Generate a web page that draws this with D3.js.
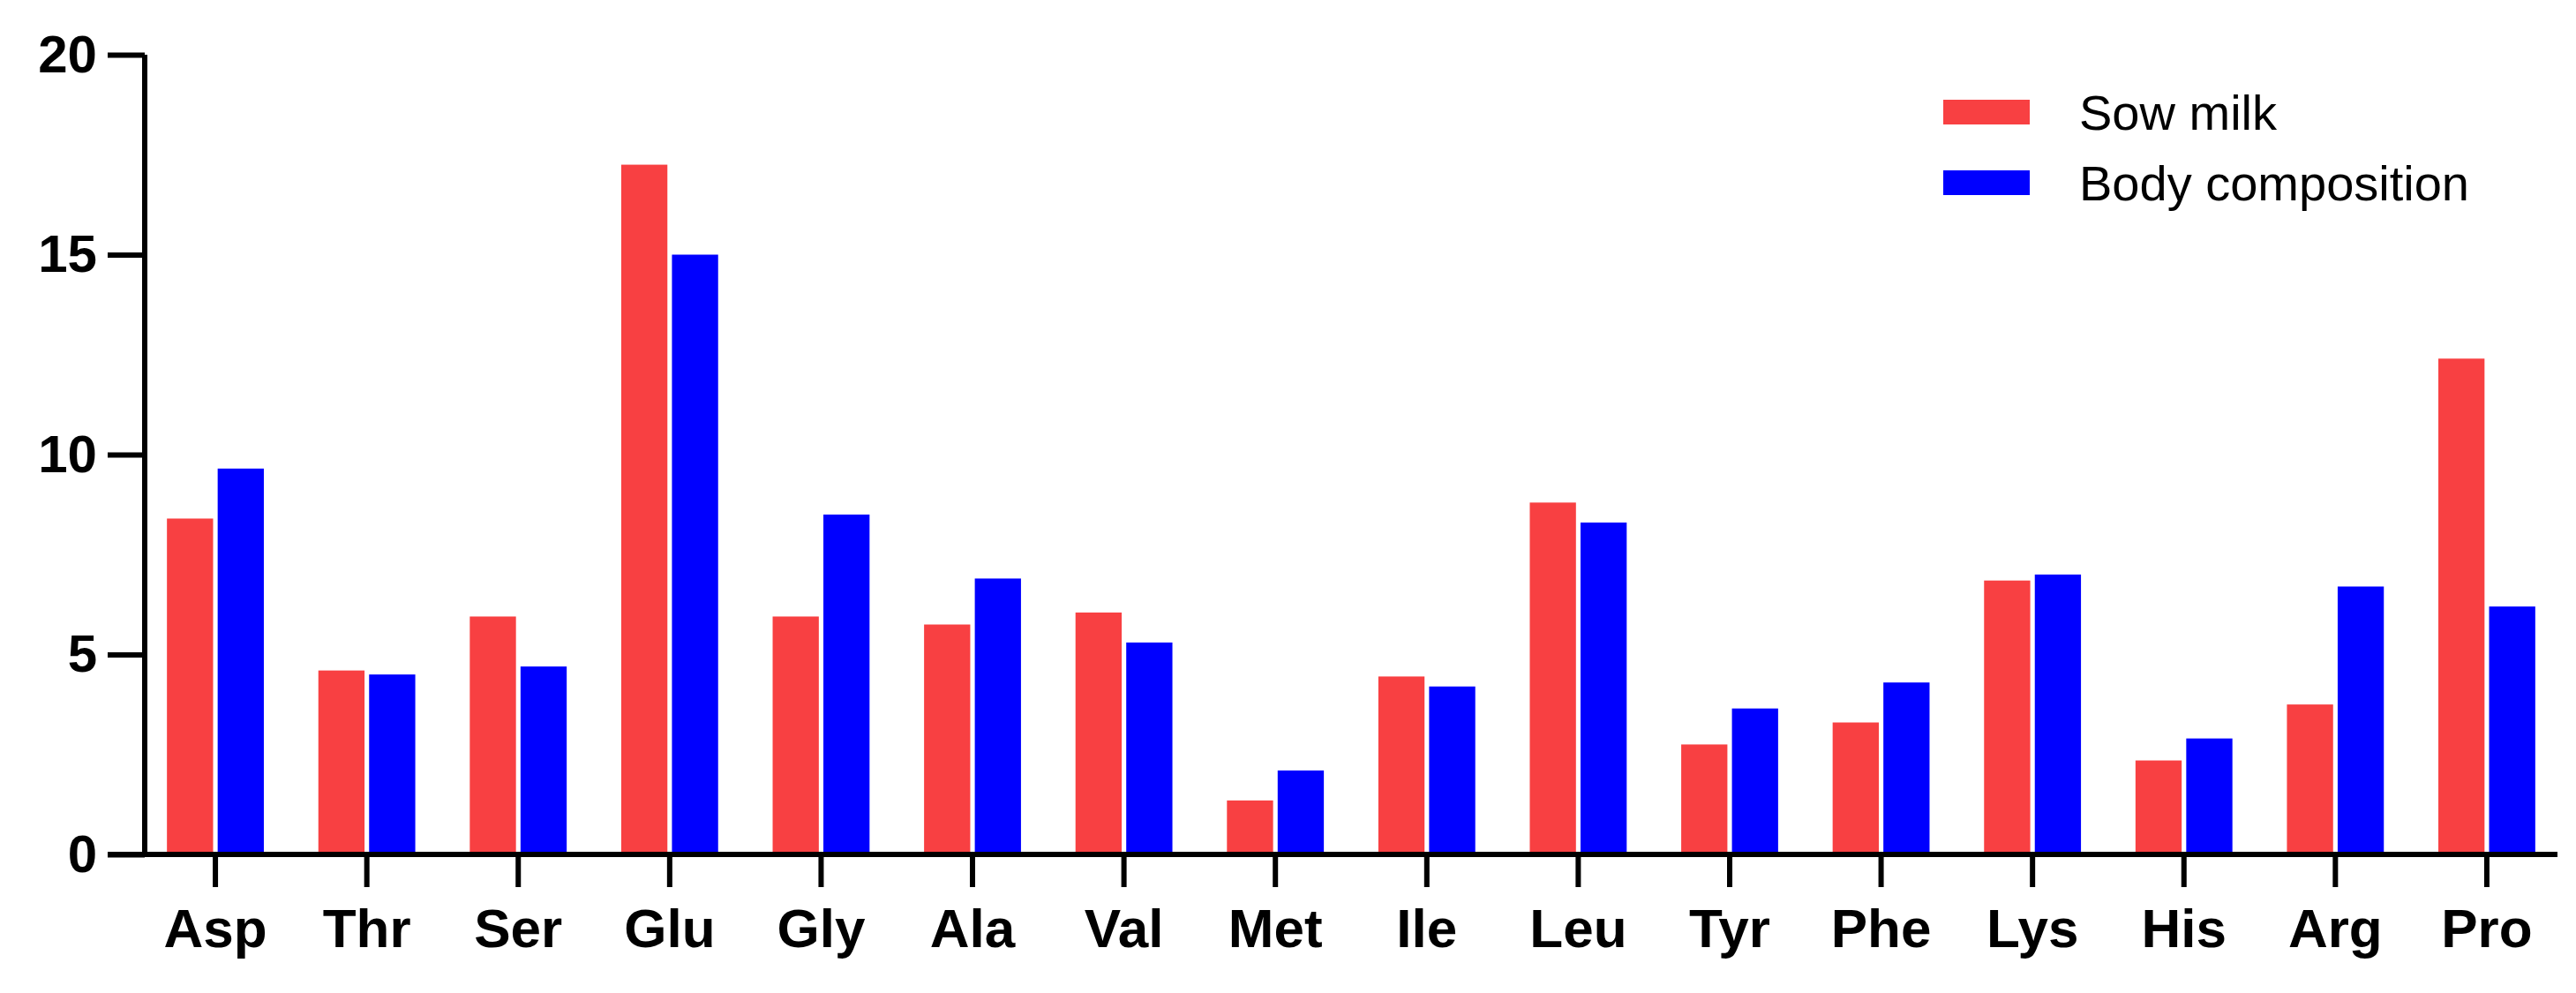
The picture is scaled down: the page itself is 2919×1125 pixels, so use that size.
<!DOCTYPE html>
<html>
<head>
<meta charset="utf-8">
<script src="https://cdn.jsdelivr.net/npm/d3@7"></script>
<style>
  body { margin: 0; background: #fff; }
  svg { display: block; font-family: "Liberation Sans", Arial, sans-serif; }
</style>
</head>
<body>
<svg id="chart" width="2919" height="1125"></svg>
<script>
// amino acid categories
var categories = ["Asp", "Thr", "Ser", "Glu", "Gly", "Ala", "Val", "Met", "Ile", "Leu", "Tyr", "Phe", "Lys", "His", "Arg", "Pro"];
var sowMilk = [8.4, 4.6, 5.95, 17.25, 5.95, 5.75, 6.05, 1.35, 4.45, 8.8, 2.75, 3.3, 6.85, 2.35, 3.75, 12.4];
var bodyComp = [9.65, 4.5, 4.7, 15.0, 8.5, 6.9, 5.3, 2.1, 4.2, 8.3, 3.65, 4.3, 7.0, 2.9, 6.7, 6.2];
var seriesNames = ["Sow milk", "Body composition"];
var yTicks = [0, 5, 10, 15, 20];

var colors = ["#f84042", "#0000ff"];

var svg = d3.select("#chart");
var mLeft = 164, mRight = 2898, mTop = 62, mBottom = 968;

var x = d3.scaleBand().domain(categories)
  .range([mLeft + 8, mRight - 8]).paddingInner(0.36).paddingOuter(0.1);
var sub = d3.scaleBand().domain([0, 1]).range([0, x.bandwidth()]).paddingInner(0.09);
var y = d3.scaleLinear().domain([0, 20]).range([mBottom, mTop]);

var rows = categories.map(function(c, i) { return { cat: c, vals: [sowMilk[i], bodyComp[i]] }; });

var g = svg.selectAll("g.grp").data(rows).enter().append("g")
  .attr("class", "grp")
  .attr("transform", function(d) { return "translate(" + x(d.cat) + ",0)"; });

g.selectAll("rect").data(function(d) { return d.vals; }).enter().append("rect")
  .attr("x", function(d, i) { return sub(i); })
  .attr("width", sub.bandwidth())
  .attr("y", function(d) { return y(d); })
  .attr("height", function(d) { return mBottom - y(d); })
  .attr("fill", function(d, i) { return colors[i]; });

// y axis
var yAxis = svg.append("g").attr("transform", "translate(" + mLeft + ",0)")
  .call(d3.axisLeft(y).tickValues(yTicks).tickSize(42).tickPadding(12));
// x axis
var xAxis = svg.append("g").attr("transform", "translate(0," + mBottom + ")")
  .call(d3.axisBottom(x).tickSize(37).tickPadding(24).tickSizeOuter(0));

[yAxis, xAxis].forEach(function(a) {
  a.select(".domain").attr("stroke", "#000").attr("stroke-width", 6);
  a.selectAll(".tick line").attr("stroke", "#000").attr("stroke-width", 6);
  a.selectAll(".tick text").attr("fill", "#000").attr("font-weight", "bold").attr("font-size", 60);
});
yAxis.select(".domain").attr("d", "M0," + mTop + "V" + (mBottom + 3));
xAxis.select(".domain").attr("d", "M" + (mLeft - 42) + ",0H" + mRight);
xAxis.selectAll(".tick text").attr("font-size", 62);

// legend
var leg = svg.append("g").selectAll("g").data(seriesNames).enter().append("g")
  .attr("transform", function(d, i) { return "translate(2202," + (113 + i * 80) + ")"; });
leg.append("rect").attr("width", 98).attr("height", 28)
  .attr("fill", function(d, i) { return colors[i]; });
leg.append("text").attr("x", 154).attr("y", 14).attr("dy", "0.35em")
  .attr("font-size", 56).attr("fill", "#000").text(function(d) { return d; });
</script>
</body>
</html>
